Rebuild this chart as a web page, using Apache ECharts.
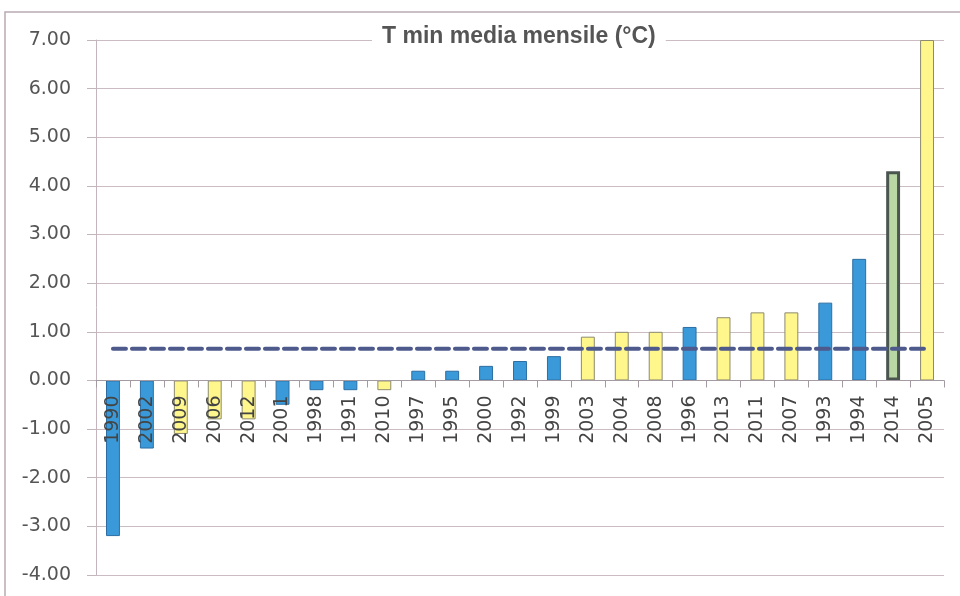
<!DOCTYPE html>
<html>
<head>
<meta charset="utf-8">
<script src="https://cdn.jsdelivr.net/npm/echarts@6/dist/echarts.min.js"></script>
<style>
html,body{margin:0;padding:0;background:#fff;}
#chart{width:960px;height:596px;}
</style>
</head>
<body>
<div id="chart"></div>
<script>
// Data
const years = ['1990','2002','2009','2006','2012','2001','1998','1991','2010','1997','1995','2000','1992','1999','2003','2004','2008','1996','2013','2011','2007','1993','1994','2014','2005'];
const values = [-3.2,-1.4,-1.1,-0.8,-0.8,-0.5,-0.2,-0.2,-0.2,0.2,0.2,0.3,0.4,0.5,0.9,1.0,1.0,1.1,1.3,1.4,1.4,1.6,2.5,4.3,7.0];
const groups = ['old','old','new','new','new','old','old','old','new','old','old','old','old','old','new','new','new','old','new','new','new','old','old','current','new'];
const meanValue = 0.65;
const yTicks = [-4, -3, -2, -1, 0, 1, 2, 3, 4, 5, 6, 7];

const groupStyle = {
  old: {color:'#3a9ad9', borderColor:'#2c6ea3', borderWidth:1},
  new: {color:'#fff68c', borderColor:'#8c8a70', borderWidth:1},
  current: {color:'#b8d7a3', borderColor:'#4b5550', borderWidth:3}
};

const GRID_BOTTOM = 21;
const H = 596;

const chart = echarts.init(document.getElementById('chart'), null, {renderer:'canvas'});
const option = {
  animation:false,
  backgroundColor:'#ffffff',
  title:{
    text:'T min media mensile (°C)',
    left:372, top:22,
    padding:[3,10,3,10],
    backgroundColor:'#ffffff',
    textStyle:{fontFamily:'Liberation Sans', fontWeight:'bold', fontSize:23, color:'#555555'}
  },
  graphic:[{
    type:'rect', z:-1,
    shape:{x:5, y:12, width:1000, height:700},
    style:{fill:'none', stroke:'#b9aab2', lineWidth:1.5}
  }],
  grid:{left:96, right:16, top:40, bottom:GRID_BOTTOM, containLabel:false, outerBoundsMode:'none'},
  xAxis:{
    type:'category',
    data:years,
    offset:0,
    z:4,
    axisLine:{onZero:false, lineStyle:{color:'#a49aa2', width:1}},
    axisTick:{show:true, length:7, lineStyle:{color:'#a49aa2'}},
    axisLabel:{rotate:90, interval:0, margin:15, fontFamily:'DejaVu Sans', fontSize:19, color:'#444444'},
    splitLine:{show:false}
  },
  yAxis:{
    type:'value',
    min:yTicks[0], max:yTicks[yTicks.length-1], interval:1,
    axisLine:{show:true, lineStyle:{color:'#c4b4bc', width:1}},
    axisTick:{show:true, inside:false, length:9, lineStyle:{color:'#c4b4bc'}},
    axisLabel:{margin:25, fontFamily:'DejaVu Sans', fontSize:19, color:'#555555',
      formatter:function(v){return v.toFixed(2);}},
    splitLine:{show:true, lineStyle:{color:'#cbbcc3', width:1}}
  },
  series:[
    {
      type:'bar',
      barWidth:'41%',
      data:values.map(function(v,i){return {value:v, itemStyle:groupStyle[groups[i]]};}),
      z:2
    },
    {
      type:'line',
      data:years.map(function(){return meanValue;}),
      symbol:'none',
      lineStyle:{color:'#4e5a8c', width:4, type:[13,6], cap:'round'},
      z:5
    }
  ]
};
chart.setOption(option);
// move the category axis (line, ticks and labels) up to the zero line
const zeroY = chart.convertToPixel({yAxisIndex:0}, 0);
const bottomY = H - GRID_BOTTOM;
chart.setOption({xAxis:{offset: zeroY - bottomY}});
</script>
</body>
</html>
